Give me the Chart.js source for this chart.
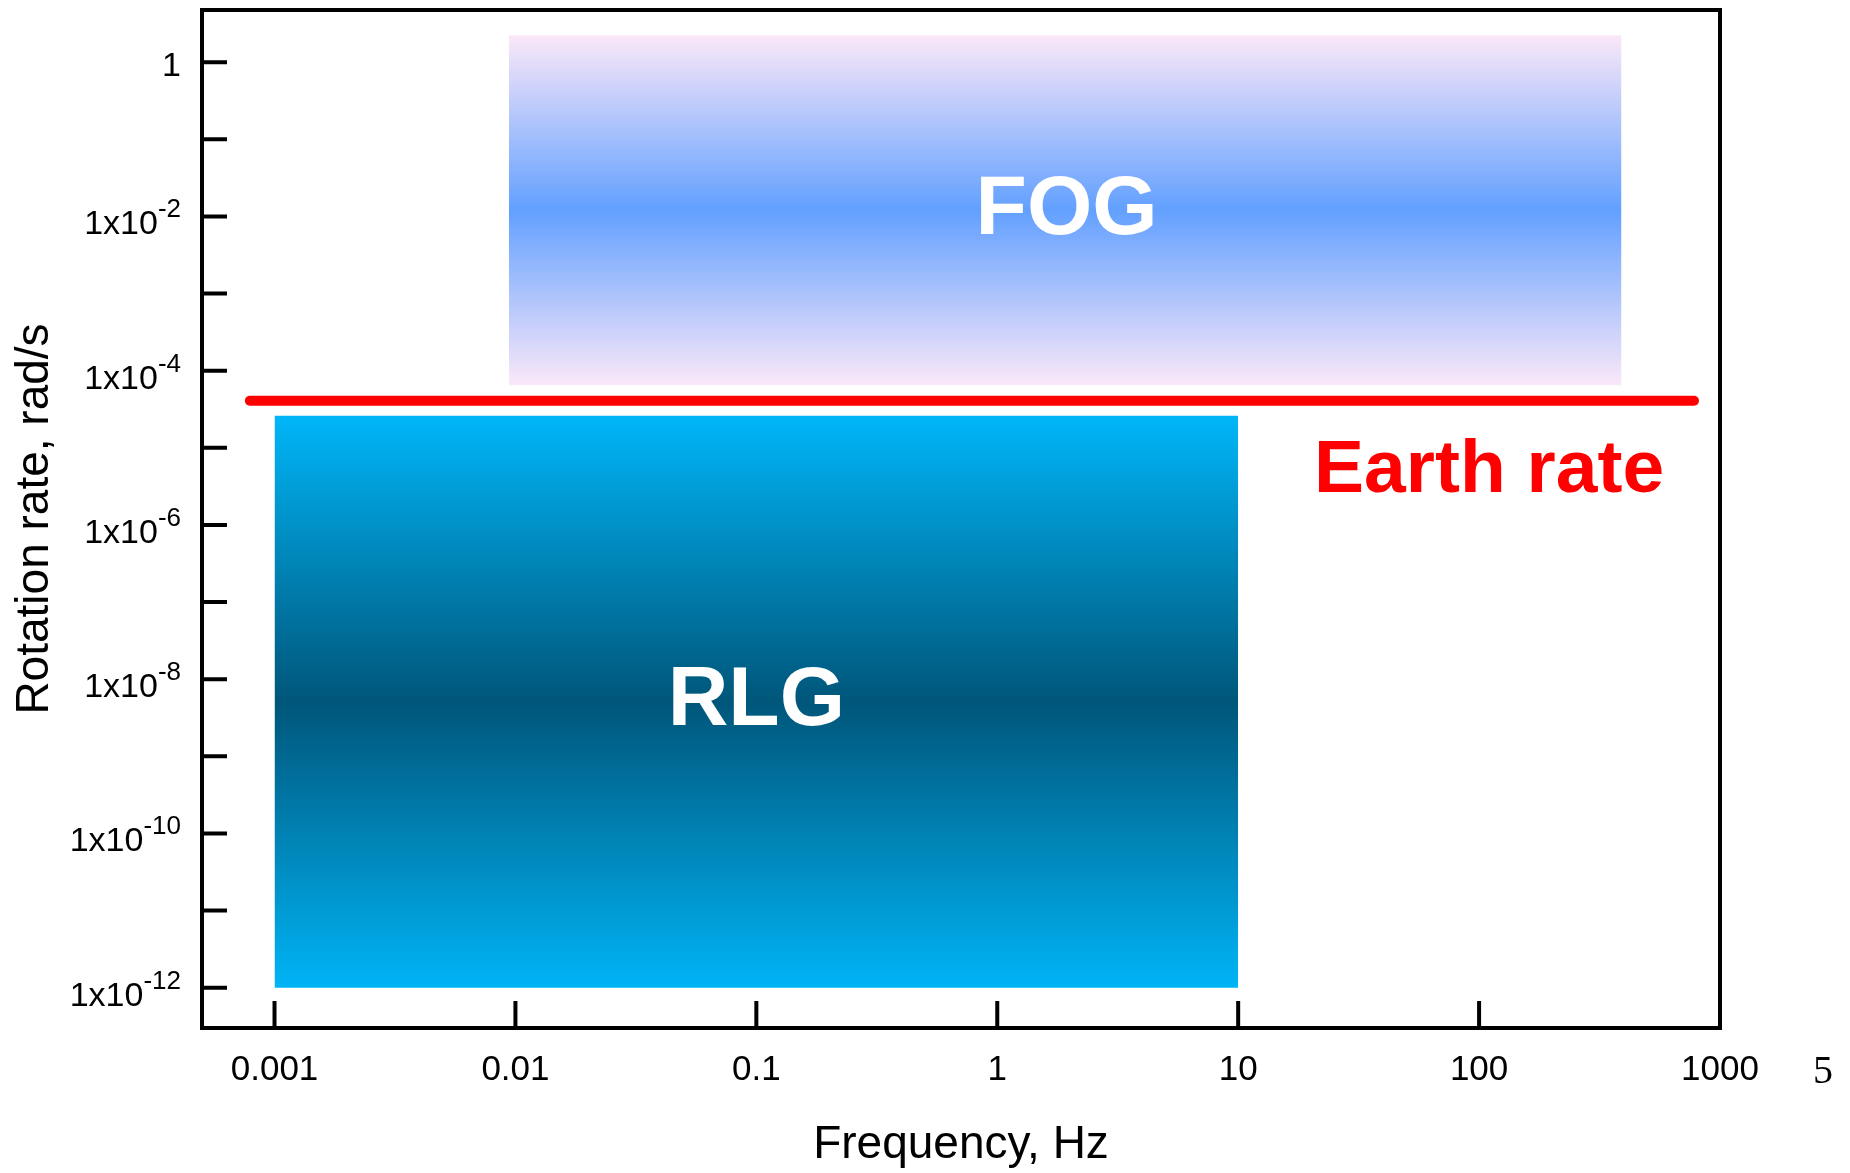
<!DOCTYPE html>
<html>
<head>
<meta charset="utf-8">
<title>Rotation rate vs frequency</title>
<script src="https://cdn.jsdelivr.net/npm/chart.js@4.4.1/dist/chart.umd.min.js"></script>
<style>
  html, body { margin: 0; padding: 0; background: #fff; }
  #wrap { position: relative; width: 1850px; height: 1173px; }
  #pageNum {
    position: absolute; left: 1813px; top: 1050px;
    font: 40px/40px "Liberation Serif", "Times New Roman", serif; color: #000;
  }
</style>
</head>
<body>
<div id="wrap">
  <canvas id="gyroChart" width="1850" height="1173"></canvas>
  <div id="pageNum">5</div>
</div>
<script>
// axes
const xTickValues = [0.001, 0.01, 0.1, 1, 10, 100, 1000]
const xTickLabels = ['0.001', '0.01', '0.1', '1', '10', '100', '1000']
const yTickValues = [1, 1e-1, 1e-2, 1e-3, 1e-4, 1e-5, 1e-6, 1e-7, 1e-8, 1e-9, 1e-10, 1e-11, 1e-12]
const yLabelValues = [1, 1e-2, 1e-4, 1e-6, 1e-8, 1e-10, 1e-12]
const yLabelBase = ['1', '1x10', '1x10', '1x10', '1x10', '1x10', '1x10']
const yLabelExp = ['', '-2', '-4', '-6', '-8', '-10', '-12']
const xRange = [5e-4, 1000]
const yRange = [3.4e-13, 4.76]

// FOG band (frequency, rotation rate)
const fogX = [0.0094, 390]
const fogY = [6.5e-5, 2.24]
// RLG band
const rlgX = [0.001, 10]
const rlgY = [1e-12, 2.6e-5]
// Earth rate line
const earthX = [7.9e-4, 780]
const earthY = [4.08e-5, 4.08e-5]

// text labels inside the plot
const annotTexts = ['FOG', 'RLG', 'Earth rate']
const annotX = [1.94, 0.1, 110]
const annotY = [0.0118, 5.05e-9, 4.9e-6]

const FAMILY = '"Liberation Sans", Arial, Helvetica, sans-serif'
Chart.defaults.font.family = FAMILY
Chart.defaults.color = '#000'

const annotStyles = [
  { color: '#ffffff', font: 'bold 84px ' + FAMILY },
  { color: '#ffffff', font: 'bold 84px ' + FAMILY },
  { color: '#ff0000', font: 'bold 75px ' + FAMILY }
]

const fogStops = [[0, '#fbe8f8'], [0.5, '#62a0ff'], [1, '#fbe8f8']]
const rlgStops = [[0, '#00b6f8'], [0.5, '#00567a'], [1, '#00b4f6']]

function bandGradient(ys, stops) {
  return (context) => {
    const chart = context.chart
    const { ctx, chartArea, scales } = chart
    if (!chartArea) return null
    const top = scales.y.getPixelForValue(ys[1])
    const bottom = scales.y.getPixelForValue(ys[0])
    const g = ctx.createLinearGradient(0, top, 0, bottom)
    stops.forEach(([p, c]) => g.addColorStop(p, c))
    return g
  }
}

function edge(xs, yv) {
  return xs.map((x) => ({ x: x, y: yv }))
}

// frame, inward ticks, y labels with superscripts, text labels
const plotDecor = {
  id: 'plotDecor',
  afterDatasetsDraw(chart) {
    const { ctx, scales: { x, y } } = chart
    ctx.save()
    ctx.textAlign = 'center'
    ctx.textBaseline = 'middle'
    annotTexts.forEach((t, i) => {
      ctx.fillStyle = annotStyles[i].color
      ctx.font = annotStyles[i].font
      ctx.fillText(t, x.getPixelForValue(annotX[i]), y.getPixelForValue(annotY[i]))
    })
    ctx.restore()
  },
  afterDraw(chart) {
    const { ctx, chartArea: a, scales: { x, y } } = chart
    ctx.save()
    ctx.strokeStyle = '#000'
    ctx.lineWidth = 4
    ctx.beginPath()
    xTickValues.slice(0, -1).forEach((v) => {
      const px = x.getPixelForValue(v)
      ctx.moveTo(px, a.bottom)
      ctx.lineTo(px, a.bottom - 27)
    })
    yTickValues.forEach((v) => {
      const py = y.getPixelForValue(v)
      ctx.moveTo(a.left, py)
      ctx.lineTo(a.left + 25, py)
    })
    ctx.stroke()
    ctx.strokeRect(a.left, a.top, a.right - a.left, a.bottom - a.top)

    ctx.fillStyle = '#000'
    ctx.textAlign = 'right'
    ctx.textBaseline = 'alphabetic'
    const right = a.left - 21
    yLabelValues.forEach((v, i) => {
      const py = y.getPixelForValue(v)
      if (yLabelExp[i]) {
        ctx.font = '26px ' + FAMILY
        ctx.fillText(yLabelExp[i], right, py + 1)
        const w = ctx.measureText(yLabelExp[i]).width
        ctx.font = '34px ' + FAMILY
        ctx.fillText(yLabelBase[i], right - w, py + 18)
      } else {
        ctx.font = '34px ' + FAMILY
        ctx.fillText(yLabelBase[i], right, py + 14)
      }
    })
    ctx.restore()
  }
}

new Chart(document.getElementById('gyroChart'), {
  type: 'line',
  data: {
    datasets: [
      {
        label: 'Earth rate',
        data: earthX.map((x, i) => ({ x: x, y: earthY[i] })),
        borderColor: '#ff0000',
        borderWidth: 10,
        borderCapStyle: 'round',
        pointRadius: 0,
        fill: false
      },
      {
        label: 'FOG',
        data: edge(fogX, fogY[1]),
        borderWidth: 0,
        pointRadius: 0,
        backgroundColor: bandGradient(fogY, fogStops),
        fill: '+1'
      },
      {
        label: 'FOG bottom',
        data: edge(fogX, fogY[0]),
        borderWidth: 0,
        pointRadius: 0,
        fill: false
      },
      {
        label: 'RLG',
        data: edge(rlgX, rlgY[1]),
        borderWidth: 0,
        pointRadius: 0,
        backgroundColor: bandGradient(rlgY, rlgStops),
        fill: '+1'
      },
      {
        label: 'RLG bottom',
        data: edge(rlgX, rlgY[0]),
        borderWidth: 0,
        pointRadius: 0,
        fill: false
      }
    ]
  },
  options: {
    responsive: false,
    animation: false,
    events: [],
    layout: { padding: { top: 10, right: 130, bottom: 0, left: 0 } },
    plugins: {
      legend: { display: false },
      tooltip: { enabled: false }
    },
    scales: {
      x: {
        type: 'logarithmic',
        min: xRange[0],
        max: xRange[1],
        afterBuildTicks: (scale) => {
          scale.ticks = xTickValues.map((v) => ({ value: v }))
        },
        afterFit: (scale) => { scale.height = 145 },
        ticks: {
          autoSkip: false,
          maxRotation: 0,
          padding: 21,
          font: { size: 35 },
          color: '#000',
          callback: (value, index) => xTickLabels[index]
        },
        grid: { display: false, drawTicks: false },
        border: { display: false },
        title: {
          display: true,
          text: 'Frequency, Hz',
          font: { size: 46 },
          color: '#000',
          padding: { top: 0, bottom: 0 }
        }
      },
      y: {
        type: 'logarithmic',
        min: yRange[0],
        max: yRange[1],
        afterFit: (scale) => { scale.width = 202 },
        ticks: { display: false },
        grid: { display: false, drawTicks: false },
        border: { display: false },
        title: {
          display: true,
          text: 'Rotation rate, rad/s',
          font: { size: 46 },
          color: '#000',
          padding: { top: 8, bottom: 0 }
        }
      }
    }
  },
  plugins: [plotDecor]
})
</script>
</body>
</html>
